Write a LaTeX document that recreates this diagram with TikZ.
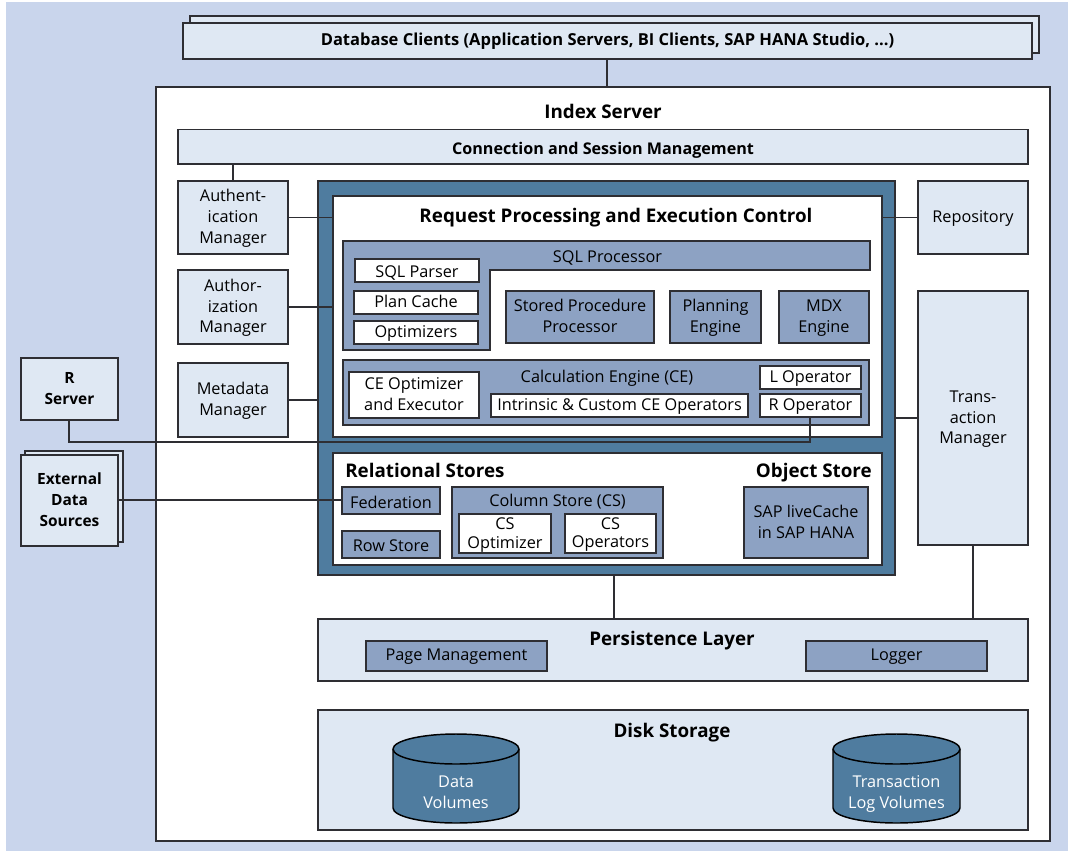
\documentclass[tikz,border=0pt]{standalone}
\usepackage{fontspec}
\setmainfont{Open Sans}
\definecolor{pagebg}{HTML}{C9D5EC}
\definecolor{lightbox}{HTML}{DFE8F3}
\definecolor{midbox}{HTML}{8DA2C3}
\definecolor{darkbox}{HTML}{4F7C9F}
\definecolor{edge}{HTML}{2E2E33}
\tikzset{
  bx/.style={draw=edge,line width=1.1pt,inner sep=0pt,outer sep=0pt,align=center,text=black,font=\fontsize{12.2}{15.6}\selectfont},
  light/.style={bx,fill=lightbox},
  mid/.style={bx,fill=midbox},
  dark/.style={bx,fill=darkbox},
  whitebox/.style={bx,fill=white},
  title/.style={font=\fontsize{14.1}{16}\bfseries\selectfont,inner sep=0pt,text=black,anchor=base},
  lbl/.style={font=\fontsize{12.2}{15.6}\selectfont,inner sep=0pt,align=center,text=black,anchor=base},
  boldbox/.style={font=\fontsize{12.1}{15.6}\bfseries\selectfont},
  boldwide/.style={font=\fontsize{12.38}{15.6}\bfseries\selectfont},
  boldside/.style={font=\fontsize{11.6}{15.6}\bfseries\selectfont},
  tight/.style={font=\fontsize{12.2}{12.5}\selectfont},
  link/.style={draw=edge,line width=1.1pt},
  cyl/.style={draw=black,line width=1.1pt,fill=darkbox},
  cyltext/.style={font=\fontsize{12.2}{15.6}\selectfont,text=white,align=center,inner sep=0pt}
}
% \bx[text shift]{name}{x1}{y1}{x2}{y2}{style}{text}
\newcommand{\bx}[8][1]{%
  \node[#7,anchor=north west,minimum width={(#5-#3)*0.75pt},minimum height={(#6-#4)*0.75pt}] (#2) at (#3,#4) {};
  \node[#7,draw=none,fill=none,yshift={-(#1)*0.75pt}] (#2text) at (#2.center) {\strut #8\strut};}
\begin{document}
\begin{tikzpicture}[x=0.75pt,y=-0.75pt]
\useasboundingbox (0,0) rectangle (1068,851);
\fill[pagebg] (6,2) rectangle (1068,851);
% clients
\node[light,anchor=north west,minimum width={849*0.75pt},minimum height={37*0.75pt}] (clientsback) at (190,16) {};
\bx[0]{clients}{183}{23}{1032}{59}{light,boldwide}{Database Clients (Application Servers, BI Clients, SAP HANA Studio, ...)}
% index server
\node[whitebox,anchor=north west,minimum width={894*0.75pt},minimum height={754*0.75pt}] (index) at (156,87) {};
\draw[link] (clients.south -| 607,0) -- (index.north -| 607,0);
\node[title] (indextitle) at (603,118.7) {Index Server};
\bx[3.5]{conn}{178}{129.5}{1028}{164}{light,boldbox}{Connection and Session Management}
\bx{authn}{178}{181}{288}{254}{light}{Authent-\\ication\\Manager}
\bx{authz}{178}{270}{288}{344}{light}{Author-\\ization\\Manager}
\bx{meta}{178}{363}{288}{437}{light}{Metadata\\Manager}
\bx{repo}{918}{181}{1028}{254}{light}{Repository}
\bx{trans}{918}{291}{1028}{545}{light}{Trans-\\action\\Manager}
\draw[link] (authn.north -| 233,0) -- (conn.south -| 233,0);
% central block
\node[dark,anchor=north west,minimum width={577*0.75pt},minimum height={394*0.75pt}] (outer) at (318,181) {};
\node[whitebox,anchor=north west,minimum width={549*0.75pt},minimum height={241*0.75pt}] (req) at (333,196) {};
\node[whitebox,anchor=north west,minimum width={549*0.75pt},minimum height={112*0.75pt}] (stores) at (333,453) {};
\draw[link] (authn.east) -- (req.west |- authn.east);
\draw[link] (authz.east) -- (req.west |- authz.east);
\draw[link] (meta.east) -- (outer.west |- meta.east);
\draw[link] (repo.west) -- (req.east |- repo.west);
\draw[link] (outer.east |- 0,418) -- (trans.west |- 0,418);
\node[title] (reqtitle) at (616,222) {Request Processing and Execution Control};
% SQL processor
\draw[link,fill=midbox] (343,241) coordinate (sqltl) -- (870,241) -- (870,270) -- (490,270) -- (490,350) -- (343,350) -- cycle;
\node[lbl] (sqltitle) at (607.5,262.8) {SQL Processor};
\bx[3]{parser}{355}{259}{479}{282}{whitebox}{SQL Parser}
\bx{plan}{354}{291}{478}{314}{whitebox}{Plan Cache}
\bx{opt}{354}{321}{478}{344}{whitebox}{Optimizers}
\bx{stored}{506}{291}{654}{343}{mid}{Stored Procedure\\Processor}
\bx{planning}{670}{291}{761}{343}{mid}{Planning\\Engine}
\bx{mdx}{779}{291}{869}{343}{mid}{MDX\\Engine}
% calculation engine
\node[mid,anchor=north west,minimum width={526*0.75pt},minimum height={65*0.75pt}] (ce) at (343,360) {};
\node[lbl] (cetitle) at (607,382.8) {Calculation Engine (CE)};
\bx{ceopt}{349}{372}{479}{418}{whitebox}{CE Optimizer\\and Executor}
\bx{intr}{491}{394}{748}{417}{whitebox}{Intrinsic \& Custom CE Operators}
\bx{lop}{760}{366}{861}{389}{whitebox}{L Operator}
\bx{rop}{760}{394}{861}{417}{whitebox}{R Operator}
% stores
\node[title,anchor=base west] (reltitle) at (345,477.4) {Relational Stores};
\node[title,anchor=base east] (objtitle) at (872,477.4) {Object Store};
\bx[3.5]{fed}{342}{487}{440}{514}{mid}{Federation}
\bx[2.5]{row}{342}{531}{440}{558}{mid}{Row Store}
\node[mid,anchor=north west,minimum width={211*0.75pt},minimum height={71*0.75pt}] (cs) at (452,487) {};
\node[lbl] (cstitle) at (557.5,506.8) {Column Store (CS)};
\bx[2]{csopt}{459}{514}{551}{553}{whitebox,tight}{CS\\Optimizer}
\bx[2]{csop}{565}{514}{656}{553}{whitebox,tight}{CS\\Operators}
\bx{live}{744}{487}{868}{558}{mid}{SAP liveCache\\in SAP HANA}
% external
\bx{rserver}{21}{358}{118}{420}{light,boldside}{R\\Server}
\node[light,anchor=north west,minimum width={98*0.75pt},minimum height={91*0.75pt}] (extback) at (25,451) {};
\bx{ext}{21}{455}{118}{546}{light,boldside}{External\\Data\\Sources}
\draw[link] (rserver.south -| 69,0) |- (810,442) -- (rop.south -| 810,0);
\draw[link] (ext.east |- 0,500) -- (fed.west |- 0,500);
% persistence
\node[light,anchor=north west,minimum width={710*0.75pt},minimum height={62*0.75pt}] (pers) at (318,619) {};
\node[title] (perstitle) at (672,645) {Persistence Layer};
\bx[0.5]{page}{366}{641}{547}{671}{mid}{Page Management}
\bx[0.5]{logger}{806}{641}{987}{671}{mid}{Logger}
\draw[link] (outer.south -| 614,0) -- (pers.north -| 614,0);
\draw[link] (trans.south -| 973,0) -- (pers.north -| 973,0);
% disk
\node[light,anchor=north west,minimum width={710*0.75pt},minimum height={120*0.75pt}] (disk) at (318,710) {};
\node[title] (disktitle) at (672,737) {Disk Storage};
\draw[cyl] (393,749) -- (393,808) arc[start angle=180,end angle=0,x radius=63,y radius=15] -- (519,749) arc[start angle=0,end angle=-180,x radius=63,y radius=15] -- cycle;
\draw[cyl] (393,749) arc[start angle=180,end angle=0,x radius=63,y radius=15];
\node[cyltext] (datavol) at (456,793.5) {\strut Data\\Volumes\strut};
\draw[cyl] (833,749) -- (833,808) arc[start angle=180,end angle=0,x radius=63.5,y radius=15] -- (960,749) arc[start angle=0,end angle=-180,x radius=63.5,y radius=15] -- cycle;
\draw[cyl] (833,749) arc[start angle=180,end angle=0,x radius=63.5,y radius=15];
\node[cyltext] (logvol) at (896.5,793.5) {\strut Transaction\\Log Volumes\strut};
\end{tikzpicture}
\end{document}
